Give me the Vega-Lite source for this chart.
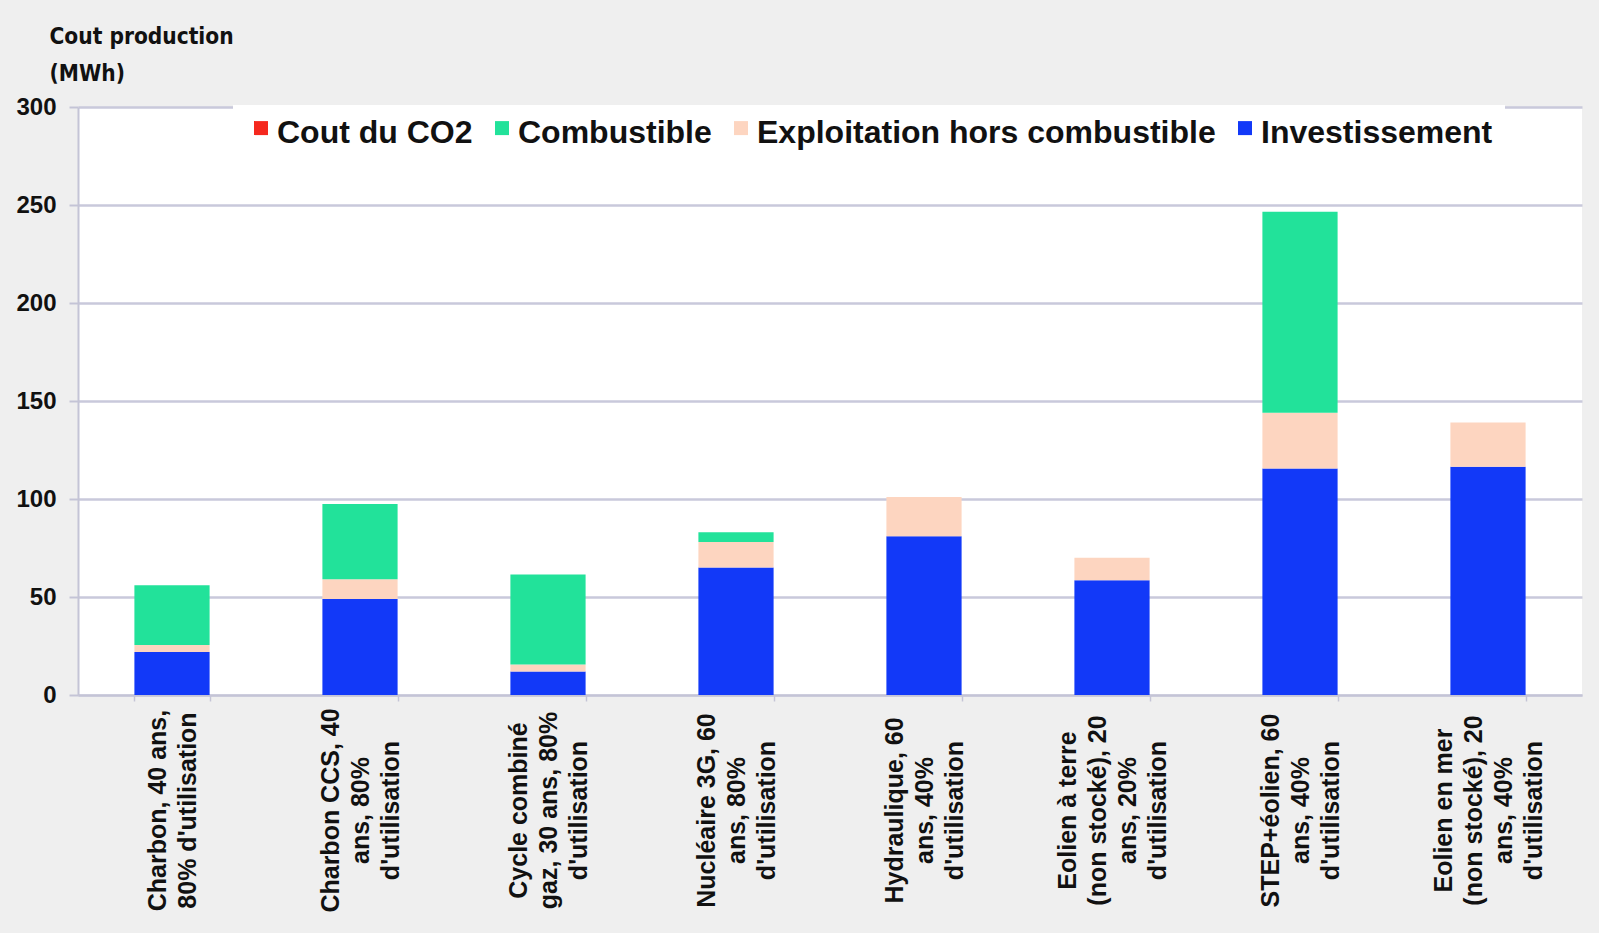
{
  "$schema": "https://vega.github.io/schema/vega-lite/v6.json",
  "autosize": {"type": "none"},
  "padding": {"left": 78, "top": 107, "right": 17, "bottom": 238},
  "width": 1504,
  "height": 588,
  "background": "#efefef",
  "view": {"fill": "white", "stroke": null},
  "data": {
    "values": [
      {"filiere": "Charbon, 40 ans,|80% d'utilisation", "poste": "Investissement", "cout": 22},
      {"filiere": "Charbon, 40 ans,|80% d'utilisation", "poste": "Exploitation hors combustible", "cout": 3.5},
      {"filiere": "Charbon, 40 ans,|80% d'utilisation", "poste": "Combustible", "cout": 30.5},
      {"filiere": "Charbon, 40 ans,|80% d'utilisation", "poste": "Cout du CO2", "cout": 0},
      {"filiere": "Charbon CCS, 40|ans, 80%|d'utilisation", "poste": "Investissement", "cout": 49},
      {"filiere": "Charbon CCS, 40|ans, 80%|d'utilisation", "poste": "Exploitation hors combustible", "cout": 10},
      {"filiere": "Charbon CCS, 40|ans, 80%|d'utilisation", "poste": "Combustible", "cout": 38.5},
      {"filiere": "Charbon CCS, 40|ans, 80%|d'utilisation", "poste": "Cout du CO2", "cout": 0},
      {"filiere": "Cycle combiné|gaz, 30 ans, 80%|d'utilisation", "poste": "Investissement", "cout": 12},
      {"filiere": "Cycle combiné|gaz, 30 ans, 80%|d'utilisation", "poste": "Exploitation hors combustible", "cout": 3.5},
      {"filiere": "Cycle combiné|gaz, 30 ans, 80%|d'utilisation", "poste": "Combustible", "cout": 46},
      {"filiere": "Cycle combiné|gaz, 30 ans, 80%|d'utilisation", "poste": "Cout du CO2", "cout": 0},
      {"filiere": "Nucléaire 3G, 60|ans, 80%|d'utilisation", "poste": "Investissement", "cout": 65},
      {"filiere": "Nucléaire 3G, 60|ans, 80%|d'utilisation", "poste": "Exploitation hors combustible", "cout": 13},
      {"filiere": "Nucléaire 3G, 60|ans, 80%|d'utilisation", "poste": "Combustible", "cout": 5},
      {"filiere": "Nucléaire 3G, 60|ans, 80%|d'utilisation", "poste": "Cout du CO2", "cout": 0},
      {"filiere": "Hydraulique, 60|ans, 40%|d'utilisation", "poste": "Investissement", "cout": 81},
      {"filiere": "Hydraulique, 60|ans, 40%|d'utilisation", "poste": "Exploitation hors combustible", "cout": 20},
      {"filiere": "Hydraulique, 60|ans, 40%|d'utilisation", "poste": "Combustible", "cout": 0},
      {"filiere": "Hydraulique, 60|ans, 40%|d'utilisation", "poste": "Cout du CO2", "cout": 0},
      {"filiere": "Eolien à terre|(non stocké), 20|ans, 20%|d'utilisation", "poste": "Investissement", "cout": 58.5},
      {"filiere": "Eolien à terre|(non stocké), 20|ans, 20%|d'utilisation", "poste": "Exploitation hors combustible", "cout": 11.5},
      {"filiere": "Eolien à terre|(non stocké), 20|ans, 20%|d'utilisation", "poste": "Combustible", "cout": 0},
      {"filiere": "Eolien à terre|(non stocké), 20|ans, 20%|d'utilisation", "poste": "Cout du CO2", "cout": 0},
      {"filiere": "STEP+éolien, 60|ans, 40%|d'utilisation", "poste": "Investissement", "cout": 115.5},
      {"filiere": "STEP+éolien, 60|ans, 40%|d'utilisation", "poste": "Exploitation hors combustible", "cout": 28.5},
      {"filiere": "STEP+éolien, 60|ans, 40%|d'utilisation", "poste": "Combustible", "cout": 102.5},
      {"filiere": "STEP+éolien, 60|ans, 40%|d'utilisation", "poste": "Cout du CO2", "cout": 0},
      {"filiere": "Eolien en mer|(non stocké), 20|ans, 40%|d'utilisation", "poste": "Investissement", "cout": 116.5},
      {"filiere": "Eolien en mer|(non stocké), 20|ans, 40%|d'utilisation", "poste": "Exploitation hors combustible", "cout": 22.5},
      {"filiere": "Eolien en mer|(non stocké), 20|ans, 40%|d'utilisation", "poste": "Combustible", "cout": 0},
      {"filiere": "Eolien en mer|(non stocké), 20|ans, 40%|d'utilisation", "poste": "Cout du CO2", "cout": 0}
    ]
  },
  "mark": {"type": "bar"},
  "encoding": {
    "x": {
      "field": "filiere",
      "type": "nominal",
      "sort": null,
      "scale": {"paddingInner": 0.6, "paddingOuter": 0.3},
      "axis": {
        "title": null,
        "labelExpr": "split(datum.label, '|')",
        "labelAngle": -90,
        "labelAlign": "center",
        "labelBaseline": "middle",
        "labelPadding": 109,
        "labelOffset": {"expr": "-(length(split(datum.value, '|')) - 1) * 15"},
        "labelFont": "Liberation Sans",
        "labelFontWeight": "bold",
        "labelFontSize": 25,
        "labelLineHeight": 30,
        "labelColor": "#111111",
        "labelLimit": 0,
        "labelOverlap": false,
        "labelBound": false,
        "tickBand": "extent",
        "tickSize": 6,
        "tickColor": "#c4c4d6",
        "tickWidth": 1.5,
        "domainColor": "#c4c4d6",
        "domainWidth": 2,
        "grid": false
      }
    },
    "y": {
      "field": "cout",
      "type": "quantitative",
      "stack": "zero",
      "scale": {"domain": [0, 300], "nice": false},
      "axis": {
        "title": ["Cout production", "(MWh)"],
        "titleAngle": 0,
        "titleAlign": "left",
        "titleBaseline": "alphabetic",
        "titleX": -29,
        "titleY": -64,
        "titleFont": "DejaVu Sans Condensed, Liberation Sans",
        "titleFontWeight": "bold",
        "titleFontSize": 22.5,
        "titleLineHeight": 37,
        "titleColor": "#111111",
        "values": [0, 50, 100, 150, 200, 250, 300],
        "labelFont": "Liberation Sans",
        "labelFontWeight": "bold",
        "labelFontSize": 24,
        "labelColor": "#111111",
        "labelPadding": 13,
        "tickSize": 9,
        "tickColor": "#c4c4d6",
        "tickWidth": 2,
        "domainColor": "#c4c4d6",
        "domainWidth": 2,
        "grid": true,
        "gridColor": "#c9c9db",
        "gridWidth": 2.5
      }
    },
    "color": {
      "field": "poste",
      "type": "nominal",
      "scale": {
        "domain": ["Cout du CO2", "Combustible", "Exploitation hors combustible", "Investissement"],
        "range": ["#f5281e", "#22e29a", "#fdd5c0", "#1239f8"]
      },
      "legend": {
        "title": null,
        "orient": "none",
        "direction": "horizontal",
        "legendX": 155,
        "legendY": -2,
        "padding": 12,
        "fillColor": "white",
        "strokeColor": null,
        "symbolType": "M-1,-1.7H1V0.3H-1Z",
        "symbolSize": 196,
        "symbolStrokeWidth": 0,
        "labelFont": "Liberation Sans",
        "labelFontWeight": "bold",
        "labelFontSize": 32,
        "labelColor": "#111111",
        "labelLimit": 700,
        "labelOffset": 0,
        "columnPadding": 13
      }
    },
    "order": {"field": "poste", "sort": "descending"}
  }
}
